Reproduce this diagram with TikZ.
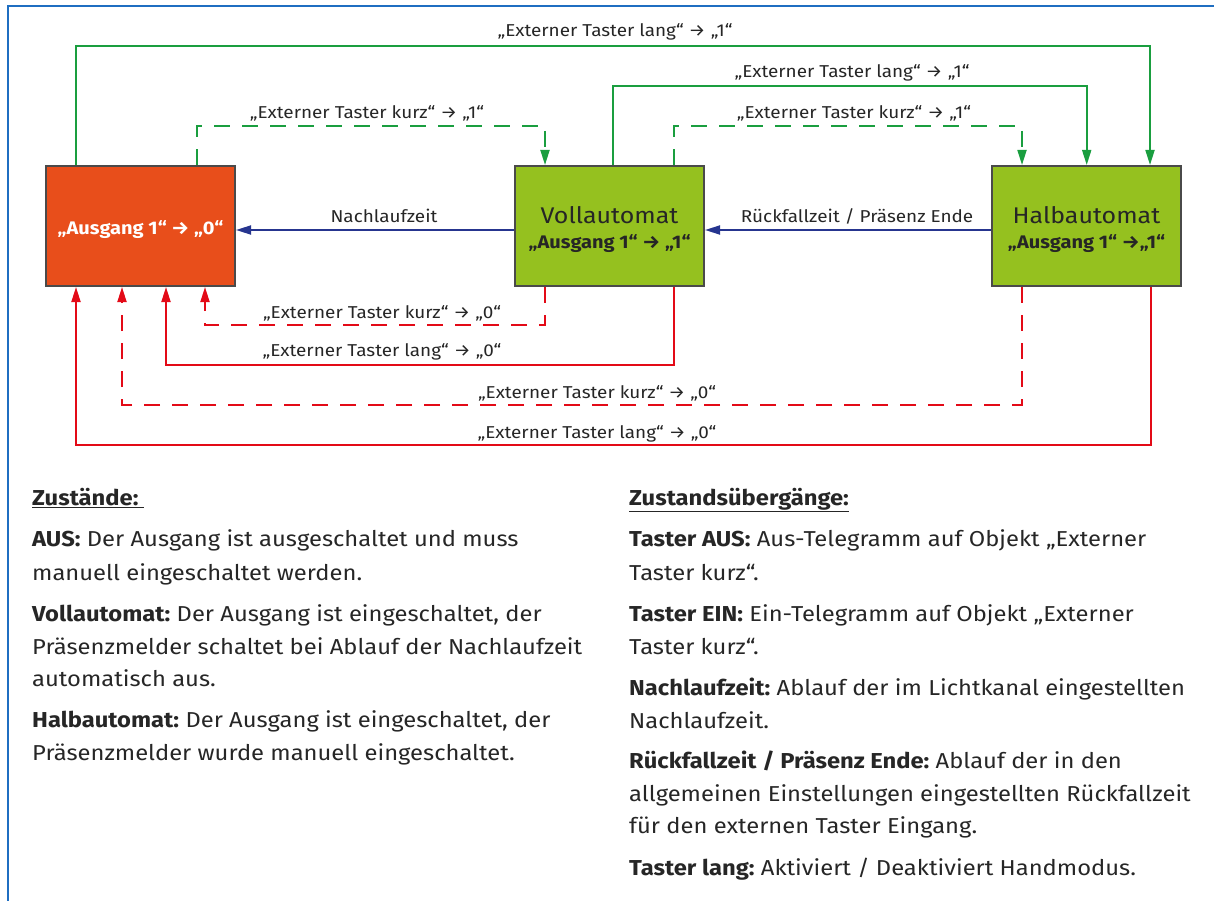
\documentclass[tikz,border=0pt]{standalone}
\usepackage{fontspec}
\setmainfont{Fira Sans}[FakeStretch=1.1]
\usetikzlibrary{arrows.meta}
\frenchspacing
\definecolor{frameblue}{HTML}{1F6EC1}
\definecolor{lgreen}{HTML}{1A9E3F}
\definecolor{lred}{HTML}{E30A17}
\definecolor{lblue}{HTML}{26358F}
\definecolor{orangebox}{HTML}{E84E1B}
\definecolor{greenbox}{HTML}{95C11F}
\definecolor{boxborder}{HTML}{4A4A4A}
\definecolor{txt}{HTML}{262626}
\tikzset{
  statebox/.style={draw=boxborder, line width=2pt, minimum width=189pt, minimum height=120pt, inner sep=0pt},
  conn/.style={line width=1.8pt, -{Triangle[length=15pt,width=9pt]}},
  gline/.style={conn, draw=lgreen},
  rline/.style={conn, draw=lred},
  bline/.style={conn, draw=lblue},
  dashline/.style={dash pattern=on 16pt off 12pt},
  lbl/.style={anchor=base, text=txt, font=\fontsize{17.2}{20}\selectfont, inner sep=0pt},
  body/.style={anchor=base west, text=txt, font=\fontsize{21.6}{25}\selectfont, inner sep=0pt},
  boxtitle/.style={anchor=base, text=txt, inner sep=0pt, font=\fontsize{22.7}{26}\selectfont},
  boxsub/.style={anchor=base, text=txt, inner sep=0pt, font=\bfseries\fontsize{18.2}{22}\selectfont},
}
\begin{document}
\begin{tikzpicture}[x=1pt,y=-1pt]
\useasboundingbox (0,0) rectangle (1214,901);
% frame
\draw[frameblue, line width=2pt] (8,901) -- (8,6) -- (1214,6);

% states
\node[statebox, fill=orangebox] (aus) at (140.5,226) {};
\node[statebox, fill=greenbox] (voll) at (609.5,226) {};
\node[statebox, fill=greenbox] (halb) at (1086.5,226) {};
\node[boxsub, text=white] (ausS) at ([yshift=-8.5pt]aus.center) {„Ausgang 1“ → „0“};
\node[boxtitle] (vollT) at ([yshift=2pt]voll.center) {Vollautomat};
\node[boxsub] (vollS) at ([yshift=-22pt]voll.center) {„Ausgang 1“ → „1“};
\node[boxtitle] (halbT) at ([yshift=2pt]halb.center) {Halbautomat};
\node[boxsub] (halbS) at ([yshift=-22pt]halb.center) {„Ausgang 1“ →„1“};

% green transitions (on)
\draw[gline] (aus.north -| 76,0) |- (1150,46) -- (halb.north -| 1150,0);
\draw[gline] (voll.north -| 612.7,0) |- (1086.7,86) -- (halb.north -| 1086.7,0);
\draw[gline, dashline] (voll.north -| 674,0) |- (1022,126) -- (halb.north -| 1022,0);
\draw[gline, dashline] (aus.north -| 197,0) |- (545,126) -- (voll.north -| 545,0);

% blue transitions
\draw[bline] (voll.west |- 0,230) -- (aus.east |- 0,230);
\draw[bline] (halb.west |- 0,230) -- (voll.east |- 0,230);

% red transitions (off)
\draw[rline, dashline] (voll.south -| 545,0) |- (205,325) -- (aus.south -| 205,0);
\draw[rline] (voll.south -| 674,0) |- (166,365) -- (aus.south -| 166,0);
\draw[rline, dashline] (halb.south -| 1022,0) |- (122,405) -- (aus.south -| 122,0);
\draw[rline] (halb.south -| 1151,0) |- (76,445) -- (aus.south -| 76,0);

% connector labels
\node[lbl] (gl1) at (615,36.7) {„Externer Taster lang“ → „1“};
\node[lbl] (gl2) at (852,78) {„Externer Taster lang“ → „1“};
\node[lbl] (gk2) at (854,119) {„Externer Taster kurz“ → „1“};
\node[lbl] (gk1) at (367,119) {„Externer Taster kurz“ → „1“};
\node[lbl] (nach) at (384,223) {Nachlaufzeit};
\node[lbl] (rueck) at (857,223) {Rückfallzeit / Präsenz Ende};
\node[lbl] (rk1) at (382,318) {„Externer Taster kurz“ → „0“};
\node[lbl] (rl1) at (382,356) {„Externer Taster lang“ → „0“};
\node[lbl] (rk2) at (597,398) {„Externer Taster kurz“ → „0“};
\node[lbl] (rl2) at (597,438) {„Externer Taster lang“ → „0“};

% left text column
\node[body] (l0) at (32,505) {\textbf{\underline{Zustände:\ }}};
\node[body] (l1) at (32,546.7) {\textbf{AUS:} Der Ausgang ist ausgeschaltet und muss};
\node[body] (l2) at (32,580) {manuell eingeschaltet werden.};
\node[body] (l3) at (32,621.7) {\textbf{Vollautomat:} Der Ausgang ist eingeschaltet, der};
\node[body] (l4) at (32,654) {Präsenzmelder schaltet bei Ablauf der Nachlaufzeit};
\node[body] (l5) at (32,686.7) {automatisch aus.};
\node[body] (l6) at (32,727.7) {\textbf{Halbautomat:} Der Ausgang ist eingeschaltet, der};
\node[body] (l7) at (32,760) {Präsenzmelder wurde manuell eingeschaltet.};

% right text column
\node[body] (r0) at (629,505) {\textbf{\underline{Zustandsübergänge:}}};
\node[body] (r1) at (629,546.7) {\textbf{Taster AUS:} Aus-Telegramm auf Objekt „Externer};
\node[body] (r2) at (629,580) {Taster kurz“.};
\node[body] (r3) at (629,621.7) {\textbf{Taster EIN:} Ein-Telegramm auf Objekt „Externer};
\node[body] (r4) at (629,654) {Taster kurz“.};
\node[body] (r5) at (629,695) {\textbf{Nachlaufzeit:} Ablauf der im Lichtkanal eingestellten};
\node[body] (r6) at (629,728.3) {Nachlaufzeit.};
\node[body] (r7) at (629,768.3) {\textbf{Rückfallzeit / Präsenz Ende:} Ablauf der in den};
\node[body] (r8) at (629,801.7) {allgemeinen Einstellungen eingestellten Rückfallzeit};
\node[body] (r9) at (629,833.3) {für den externen Taster Eingang.};
\node[body] (r10) at (629,875) {\textbf{Taster lang:} Aktiviert / Deaktiviert Handmodus.};
\end{tikzpicture}
\end{document}
